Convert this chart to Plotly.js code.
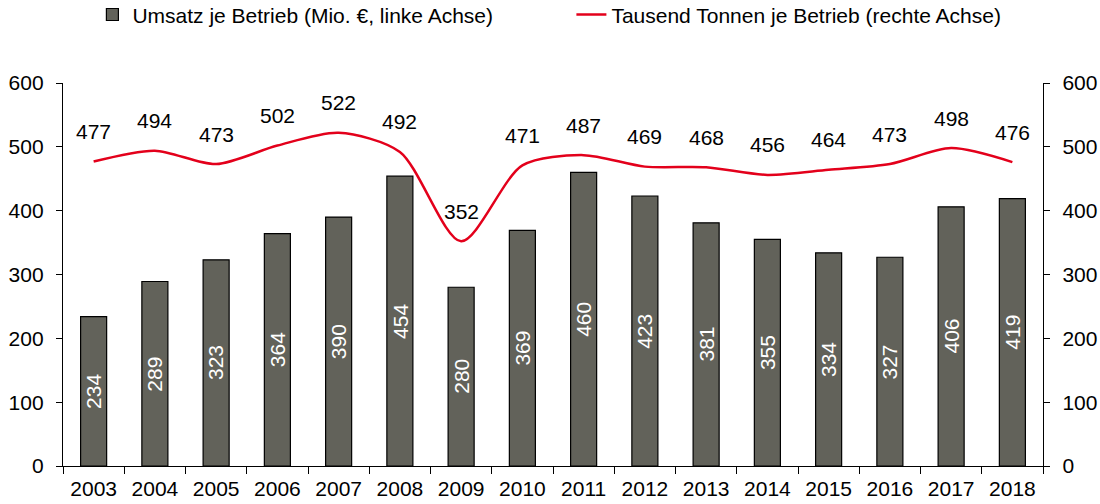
<!DOCTYPE html>
<html><head><meta charset="utf-8">
<script src="https://cdn.plot.ly/plotly-3.0.1.min.js"></script>
<style>body{margin:0;background:#fff}#c{width:1100px;height:504px}</style>
</head><body><div id="c"></div>
<script>
const years = ['2003','2004','2005','2006','2007','2008','2009','2010','2011','2012','2013','2014','2015','2016','2017','2018'];
const umsatz = [234,289,323,364,390,454,280,369,460,423,381,355,334,327,406,419];
const tonnen = [477,494,473,502,522,492,352,471,487,469,468,456,464,473,498,476];
const font = {family:'Liberation Sans, Arial, sans-serif', size:21, color:'#000'};

const traces = [
 {type:'bar', x:years, y:umsatz, name:'Umsatz je Betrieb (Mio. €, linke Achse)',
  marker:{color:'#62625a', line:{color:'#000', width:1.2}}, yaxis:'y', hoverinfo:'skip'},
 {type:'scatter', mode:'lines', x:years, y:tonnen, name:'Tausend Tonnen je Betrieb (rechte Achse)',
  line:{color:'#e3001b', width:2.5, shape:'spline', smoothing:0.8}, yaxis:'y2', hoverinfo:'skip'}
];
const ann = [];
years.forEach((yr,i)=>{
  ann.push({x:i, y:umsatz[i]/2, xref:'x', yref:'y', text:String(umsatz[i]), showarrow:false,
    textangle:-90, font:{family:font.family, size:21, color:'#fff'}});
  ann.push({x:i, y:tonnen[i], xref:'x', yref:'y2', text:String(tonnen[i]), showarrow:false,
    yshift:30, font:font});
});
const layout = {
  width:1100, height:504, margin:{l:63, r:57, t:83, b:38, autoexpand:false},
  paper_bgcolor:'#fff', plot_bgcolor:'#fff', font:font, bargap:0.575, showlegend:true,
  legend:{orientation:'h', x:0.03, y:1.178, xanchor:'left', yanchor:'middle', font:font, entrywidth:434, entrywidthmode:'pixels'},
  xaxis:{type:'category', range:[-0.5,15.5], autorange:false, showline:true, linecolor:'#000', linewidth:1.2, ticks:'outside', ticklen:7, tickcolor:'#000',
    tickson:'boundaries', showgrid:false, tickfont:font, zeroline:false, ticklabelstandoff:4},
  yaxis:{range:[0,600], dtick:100, showline:true, linecolor:'#000', linewidth:1.2, ticks:'outside', ticklen:6,
    tickcolor:'#000', showgrid:false, zeroline:false, tickfont:font, ticklabelstandoff:8},
  yaxis2:{range:[0,600], dtick:100, overlaying:'y', side:'right', showline:true, linecolor:'#000', linewidth:1.2,
    ticks:'outside', ticklen:6, tickcolor:'#000', showgrid:false, zeroline:false, tickfont:font, ticklabelstandoff:8},
  annotations:ann
};
Plotly.newPlot('c', traces, layout, {displayModeBar:false, staticPlot:true});
</script></body></html>
